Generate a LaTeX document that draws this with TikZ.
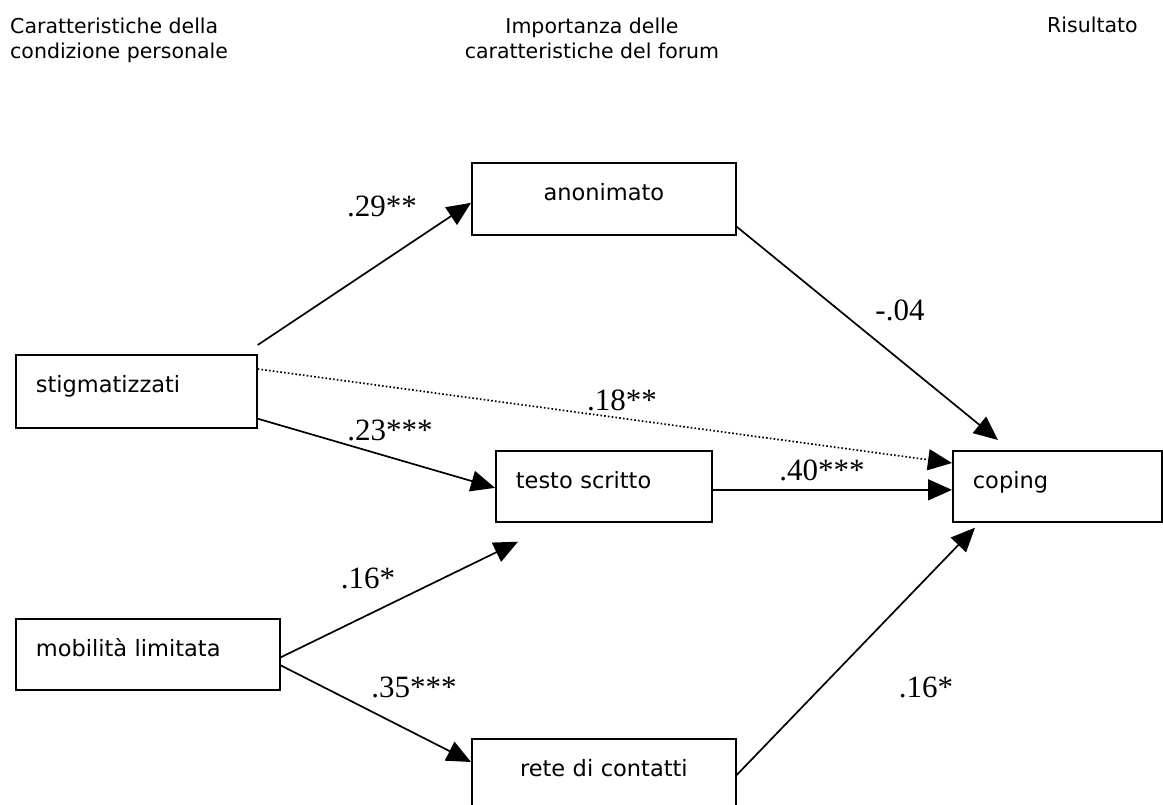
\documentclass[tikz,border=0pt]{standalone}
\usepackage{fontspec}
\setmainfont{Liberation Serif}
\newfontfamily\boxfont{DejaVu Sans}
\usetikzlibrary{arrows.meta}
\begin{document}
\begin{tikzpicture}[x=1pt,y=-1pt,
 box/.style={draw, line width=1.7pt, inner xsep=20pt, inner ysep=0pt, text height=38pt,
   font=\boxfont\fontsize{22.5}{27}\selectfont, anchor=north west},
 lbox/.style={box, align=left},
 cbox/.style={box, align=center},
 link/.style={line width=1.7pt, -{Triangle[length=24pt,width=21pt]}},
 dotlink/.style={link, dash pattern=on 1.6pt off 2.2pt},
 coef/.style={font=\fontsize{31}{36}\selectfont, anchor=base, inner sep=0pt},
 head/.style={font=\boxfont\fontsize{20.5}{25}\selectfont, inner sep=0pt}]
\useasboundingbox (0,0) rectangle (1163,805);

% headings
\node[head, anchor=north west, align=left] (h1) at (10,17.5) {Caratteristiche della\\condizione personale};
\node[head, anchor=north, align=center] (h2) at (592,17.5) {Importanza delle\\caratteristiche del forum};
\node[head, anchor=base west] (h3) at (1047,33) {Risultato};

% boxes
\node[lbox, text width=201pt, text depth=35pt] (stig) at (15,354) {stigmatizzati};
\node[lbox, text width=224pt, text depth=33pt] (mob) at (15,618) {mobilità limitata};
\node[cbox, text width=224pt, text depth=34pt] (anon) at (471,162) {anonimato};
\node[lbox, text width=176pt, text depth=33pt] (testo) at (495,450) {testo scritto};
\node[lbox, text width=169pt, text depth=33pt] (coping) at (952,450) {coping};
\node[cbox, text width=224pt, text depth=35pt] (rete) at (471,738) {rete di contatti};

% connectors
\draw[link] ([yshift=9pt]stig.north east) -- ([yshift=-4pt]anon.west);
\draw[dotlink] ([yshift=-15pt]stig.north east) -- ([yshift=-13pt]coping.north west);
\draw[link] ([yshift=10pt]stig.south east) -- ([yshift=-1.5pt]testo.west);
\draw[link] ([yshift=-3.5pt]testo.east) -- ([yshift=-3.5pt]coping.west);
\draw[link] ([yshift=9pt]anon.south east) -- ([xshift=46pt,yshift=10pt]coping.north west);
\draw[link] ([yshift=-3pt]mob.east) -- ([xshift=23pt,yshift=-19pt]testo.south west);
\draw[link] ([yshift=-11pt]mob.east) -- ([yshift=-24pt]rete.north west);
\draw[link] ([yshift=-37pt]rete.north east) -- ([xshift=23pt,yshift=-5pt]coping.south west);

% coefficients
\node[coef] (c1) at (382,217) {.29**};
\node[coef] (c2) at (390,440) {.23***};
\node[coef] (c3) at (622,410) {.18**};
\node[coef] (c4) at (822,480) {.40***};
\node[coef] (c5) at (900,320) {-.04};
\node[coef] (c6) at (368,588) {.16*};
\node[coef] (c7) at (414,697) {.35***};
\node[coef] (c8) at (926,697) {.16*};
\end{tikzpicture}
\end{document}
